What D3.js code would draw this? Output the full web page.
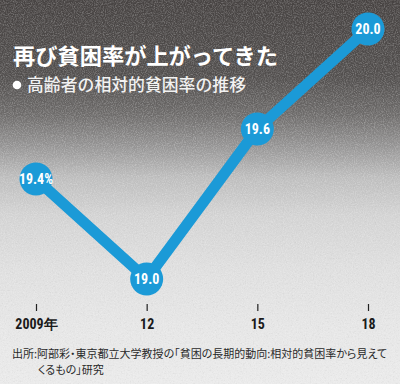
<!DOCTYPE html>
<html><head><meta charset="utf-8">
<script src="https://cdn.jsdelivr.net/npm/d3@7"></script>
<style>html,body{margin:0;padding:0;background:#e8e8e8;}svg{display:block;}</style>
</head><body>
<script>
const years = [2009, 2012, 2015, 2018];
const tickLabels = ["2009年", "12", "15", "18"];
const rates = [19.4, 19.0, 19.6, 20.0];
const pointLabels = ["19.4%", "19.0", "19.6", "20.0"];
const title = "再び貧困率が上がってきた";
const subtitle = "高齢者の相対的貧困率の推移";
const sourceLines = ["出所:阿部彩・東京都立大学教授の「貧困の長期的動向:相対的貧困率から見えて", "くるもの」研究"];

const W = 400, H = 384;
const svg = d3.select("body").append("svg").attr("width", W).attr("height", H);
const defs = svg.append("defs");
const grad = defs.append("linearGradient").attr("id", "bg").attr("x1", 0).attr("y1", 0).attr("x2", 0).attr("y2", 1);
[[0, "#474342"], [0.2, "#524f4e"], [0.3, "#6e6c6b"], [0.38, "#959494"], [0.46, "#bdbdbd"], [0.56, "#d3d3d3"], [0.7, "#dfdfdf"], [0.85, "#e6e6e6"], [1, "#eaeaea"]]
  .forEach(([o, c]) => grad.append("stop").attr("offset", o).attr("stop-color", c));
const f = defs.append("filter").attr("id", "noise").attr("x", 0).attr("y", 0).attr("width", "100%").attr("height", "100%");
f.append("feTurbulence").attr("type", "fractalNoise").attr("baseFrequency", 0.9).attr("numOctaves", 2).attr("seed", 3).attr("result", "n");
f.append("feColorMatrix").attr("in", "n").attr("type", "matrix")
  .attr("values", "0 0 0 0 1  0 0 0 0 1  0 0 0 0 1  1.4 0 0 0 -0.55");
const f2 = defs.append("filter").attr("id", "noise2").attr("x", 0).attr("y", 0).attr("width", "100%").attr("height", "100%");
f2.append("feTurbulence").attr("type", "fractalNoise").attr("baseFrequency", 0.6).attr("numOctaves", 3).attr("seed", 11).attr("result", "n");
f2.append("feColorMatrix").attr("in", "n").attr("type", "matrix")
  .attr("values", "0 0 0 0 0.35  0 0 0 0 0.35  0 0 0 0 0.35  -1.6 0 0 0 0.75");

svg.append("rect").attr("width", W).attr("height", H).attr("fill", "url(#bg)");
svg.append("rect").attr("width", W).attr("height", H).attr("filter", "url(#noise2)").attr("opacity", 0.25);
svg.append("rect").attr("width", W).attr("height", H).attr("filter", "url(#noise)").attr("opacity", 0.4);

const x = d3.scaleLinear().domain([2009, 2018]).range([36, 368]);
const y = d3.scaleLinear().domain([19.0, 20.0]).range([279, 29]);
const blue = "#1b9ad7";
const narrow = "'Liberation Sans Narrow','Roboto Condensed','Liberation Sans',Arial,sans-serif";

// axis
const axis = d3.axisBottom(x).tickValues(years).tickSize(7).tickPadding(8)
  .tickFormat((d, i) => tickLabels[i]);
const ag = svg.append("g").attr("transform", "translate(0,304)").call(axis);
ag.select(".domain").remove();
ag.selectAll(".tick line").attr("stroke", "#222").attr("stroke-width", 1.2);
ag.selectAll(".tick text").attr("fill", "#1a1a1a").attr("font-size", 14).attr("font-weight", "bold")
  .attr("font-family", narrow);

// line
const data = years.map((yr, i) => ({yr, v: rates[i], lab: pointLabels[i]}));
svg.append("path").datum(data)
  .attr("d", d3.line().x(d => x(d.yr)).y(d => y(d.v)))
  .attr("fill", "none").attr("stroke", blue).attr("stroke-width", 11).attr("stroke-linejoin", "round");
svg.selectAll("circle.pt").data(data).join("circle").attr("class", "pt")
  .attr("cx", d => x(d.yr)).attr("cy", d => y(d.v)).attr("r", 16.5).attr("fill", blue);
svg.selectAll("text.pl").data(data).join("text").attr("class", "pl")
  .attr("x", d => x(d.yr)).attr("y", d => y(d.v) + 5).attr("text-anchor", "middle")
  .attr("fill", "#fff").attr("font-size", 14).attr("font-weight", "bold")
  .attr("font-family", narrow)
  .text(d => d.lab);

// titles
const jp = "'Noto Sans CJK JP','Noto Sans CJK SC',sans-serif";
svg.append("text").attr("x", 13).attr("y", 64).attr("fill", "#fff").attr("font-size", 22).attr("font-weight", 700)
  .attr("font-family", jp).attr("textLength", 265).attr("lengthAdjust", "spacingAndGlyphs").text(title);
svg.append("circle").attr("cx", 17).attr("cy", 85).attr("r", 4.3).attr("fill", "#fff");
svg.append("text").attr("x", 27).attr("y", 91).attr("fill", "#f2f2f2").attr("font-size", 16.5).attr("font-weight", 500)
  .attr("font-family", jp).attr("textLength", 219).attr("lengthAdjust", "spacingAndGlyphs").text(subtitle);

// source
const s1 = svg.append("text").attr("x", 12).attr("y", 358).attr("fill", "#2a2a2a").attr("font-size", 12)
  .attr("font-family", jp).style("font-feature-settings", "'palt'").text(sourceLines[0]);
let fs = 12;
while (s1.node().getComputedTextLength() > 376 && fs > 9) { fs -= 0.25; s1.attr("font-size", fs); }
svg.append("text").attr("x", 38).attr("y", 374).attr("fill", "#2a2a2a").attr("font-size", fs)
  .attr("font-family", jp).style("font-feature-settings", "'palt'").text(sourceLines[1]);
</script>
</body></html>
